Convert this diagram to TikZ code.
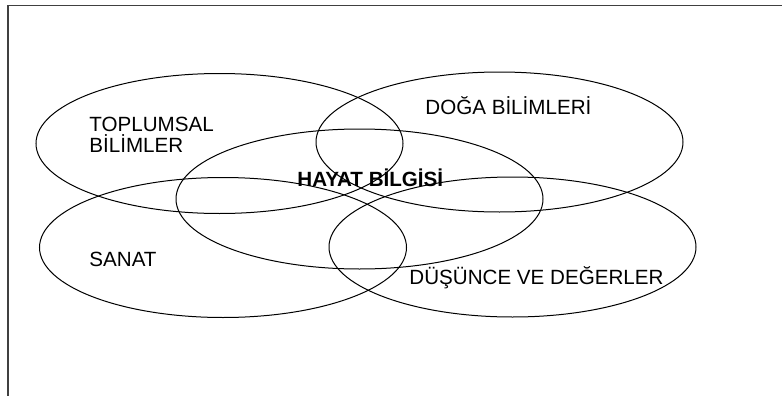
\documentclass[tikz,border=0pt]{standalone}
\usepackage{fontspec}
\setmainfont{Liberation Sans}
\usetikzlibrary{shapes.geometric}

\begin{document}
\begin{tikzpicture}[
    x=0.5pt, y=-0.5pt,
    every node/.style={font=\fontsize{10.3}{10.5}\selectfont},
    field/.style={ellipse, draw=black, line width=0.5pt, inner sep=0pt,
                  minimum width=183.5pt, minimum height=70pt},
    label/.style={anchor=west, inner sep=0pt, align=left},
    frame/.style={draw=black!75, line width=0.8pt},
  ]
    \useasboundingbox (0,0) rectangle (782,396);
    % frame
    \coordinate (fr-top) at (782,5.5);
    \coordinate (fr-corner) at (8,5.5);
    \coordinate (fr-bottom) at (8,396);
    \draw[frame] (fr-top) -- (fr-corner) -- (fr-bottom);

    % fields
    \node[field] (toplumsal) at (219.5,143.5) {};
    \node[field] (doga)      at (499.5,142) {};
    \node[field] (hayat)     at (359.5,199) {};
    \node[field] (sanat)     at (223,247.5) {};
    \node[field] (dusunce)   at (512.5,247) {};

    % labels
    \node[label] (lbl-toplumsal) at (89,134.5) {TOPLUMSAL\\BİLİMLER};
    \node[label] (lbl-doga)      at (425,106) {DOĞA BİLİMLERİ};
    \node[label, font=\fontsize{10.3}{10.5}\selectfont\bfseries]
                 (lbl-hayat)     at (297,178) {HAYAT BİLGİSİ};
    \node[label] (lbl-sanat)     at (89,259) {SANAT};
    \node[label] (lbl-dusunce)   at (409,278) {DÜŞÜNCE VE DEĞERLER};
  \end{tikzpicture}
\end{document}
